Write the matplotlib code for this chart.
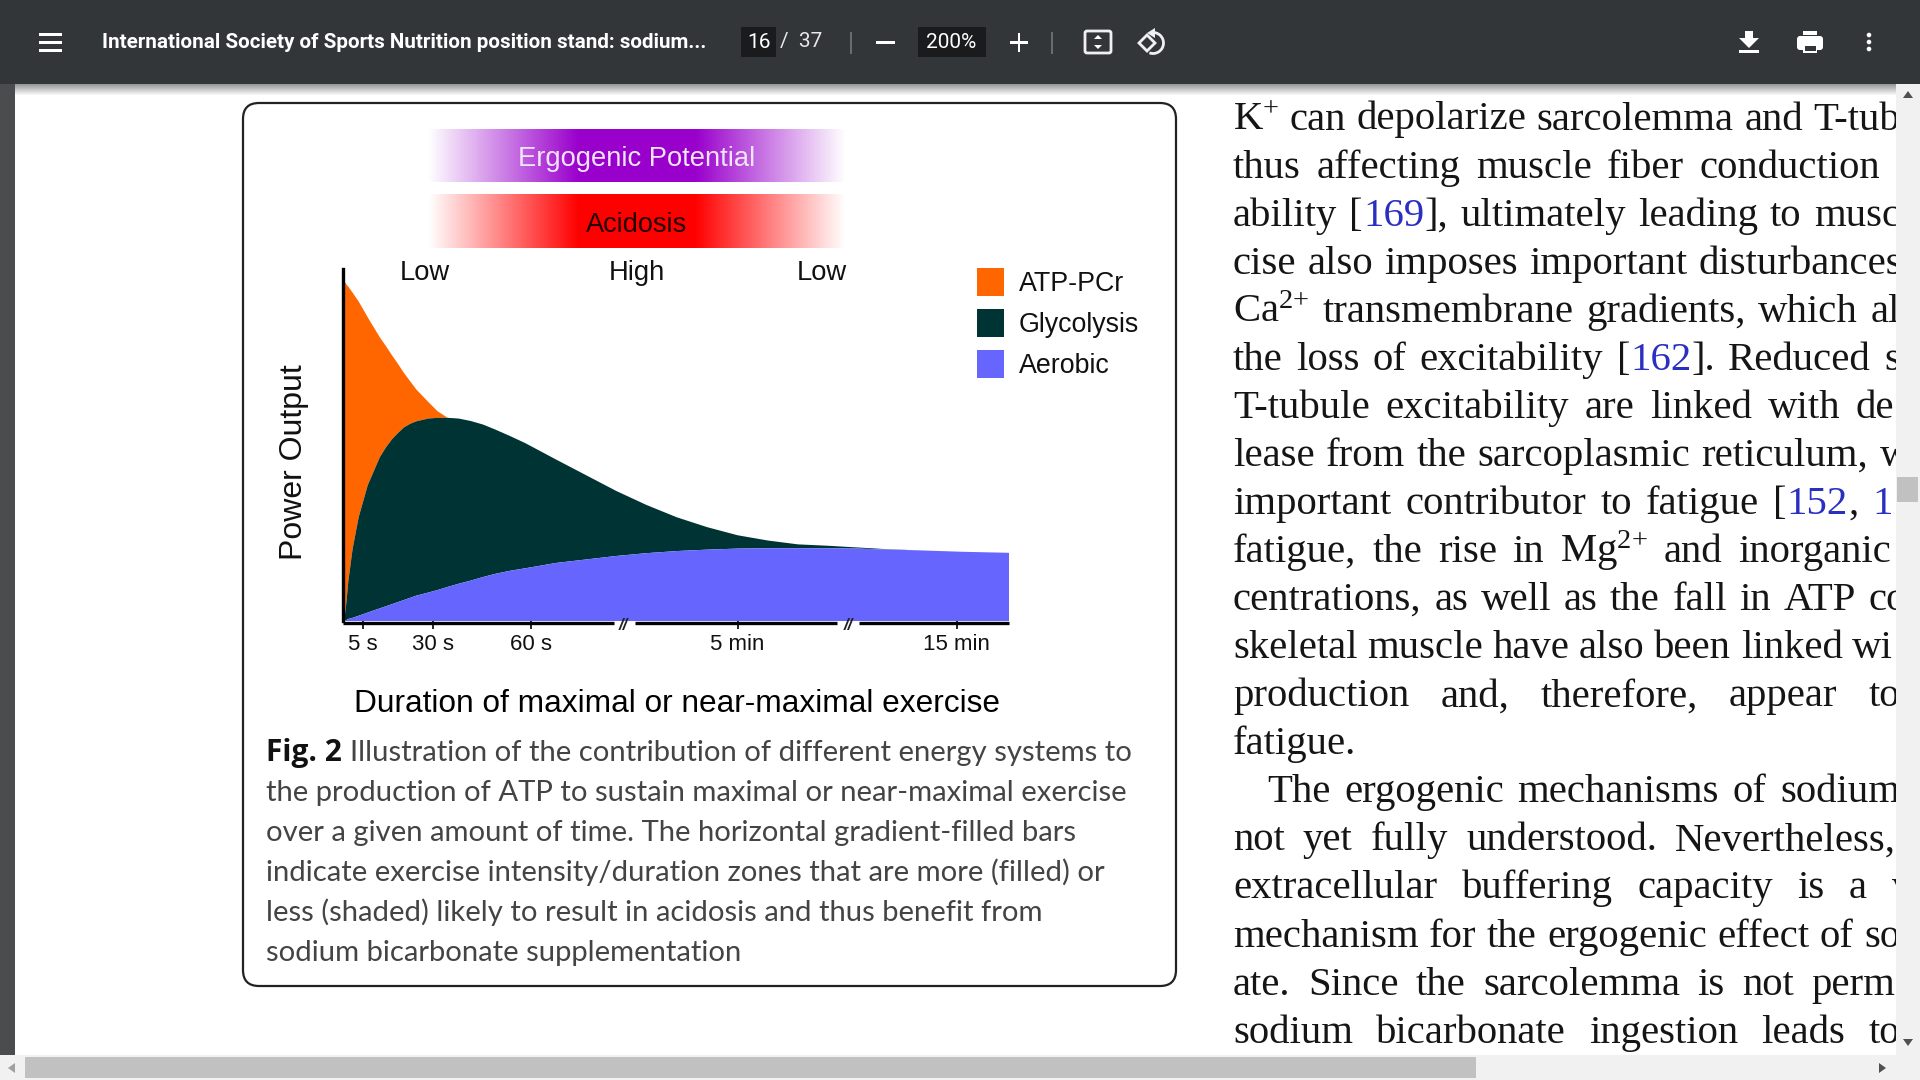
import re

import matplotlib
matplotlib.use("Agg")
import matplotlib.pyplot as plt
import numpy as np
from matplotlib.colors import LinearSegmentedColormap
from matplotlib.patches import Arc, FancyBboxPatch, Polygon, Rectangle

plt.rcParams["font.family"] = ["Liberation Sans", "DejaVu Sans"]
plt.rcParams["mathtext.fontset"] = "custom"
plt.rcParams["mathtext.rm"] = "Liberation Serif"
plt.rcParams["mathtext.default"] = "regular"

# chart values, x and y both in percent of the axis length
duration = [0.0, 0.18, 0.46, 0.73, 1.37, 2.28, 3.64, 5.46, 6.38, 7.29, 8.2, 9.11, 10.02, 10.93, 12.75, 14.12, 15.66,
            17.3, 19.13, 20.95, 22.77, 25.05, 27.32, 31.88, 36.43, 40.98, 45.54, 50.09, 54.64, 59.2, 63.75, 68.3,
            72.86, 77.41, 81.97, 86.52, 92.9, 100.0]
aerobic = [0.0, 0.1, 0.3, 0.6, 0.9, 1.5, 2.4, 3.6, 4.2, 4.8, 5.4, 6.0, 6.6, 7.2, 8.1, 8.8, 9.7,
           10.6, 11.5, 12.5, 13.4, 14.3, 15.0, 16.5, 17.5, 18.5, 19.3, 19.9, 20.3, 20.6, 20.7, 20.7,
           20.7, 20.6, 20.3, 20.1, 19.7, 19.4]
glycolysis = [0.0, 1.1, 5.7, 11.4, 20.5, 29.5, 38.6, 46.6, 49.4, 51.7, 53.5, 55.1, 56.1, 56.8, 57.6, 57.8, 57.8,
              57.6, 56.9, 55.9, 54.5, 52.6, 50.6, 46.0, 41.5, 37.0, 33.0, 29.5, 26.7, 24.4, 22.9, 21.8,
              21.4, 20.9, 20.4, 20.1, 19.7, 19.4]
atp_pcr = [0.0, 96.6, 95.7, 95.1, 93.4, 90.9, 86.4, 80.7, 78.2, 75.6, 73.1, 70.5, 68.2, 65.9, 62.3, 59.7, 57.8,
           57.6, 56.9, 55.9, 54.5, 52.6, 50.6, 46.0, 41.5, 37.0, 33.0, 29.5, 26.7, 24.4, 22.9, 21.8,
           21.4, 20.9, 20.4, 20.1, 19.7, 19.4]

tick_positions = [3.0, 13.5, 28.2, 59.3, 92.2]
tick_labels = ["5 s", "30 s", "60 s", "5 min", "15 min"]
axis_segments = [(0, 40.7), (43.9, 74.2), (77.6, 100)]
break_positions = [42.1, 75.9]

legend_labels = ["ATP-PCr", "Glycolysis", "Aerobic"]
legend_colors = ["#ff6600", "#003333", "#6666ff"]
zone_labels = ["Low", "High", "Low"]

caption_bold = "Fig. 2"
caption_lines = [
    "Illustration of the contribution of different energy systems to",
    "the production of ATP to sustain maximal or near-maximal exercise",
    "over a given amount of time. The horizontal gradient-filled bars",
    "indicate exercise intensity/duration zones that are more (filled) or",
    "less (shaded) likely to result in acidosis and thus benefit from",
    "sodium bicarbonate supplementation",
]

# page text: line, right edge of last word (None = not justified), blue parts in <>
body_lines = [
    ("K$^{+}$ can depolarize sarcolemma and T-tub", 1900),
    ("thus affecting muscle fiber conduction", 1880),
    ("ability [<169>], ultimately leading to musc", 1900),
    ("cise also imposes important disturbances", 1902),
    ("Ca$^{2{+}}$ transmembrane gradients, which al", 1900),
    ("the loss of excitability [<162>]. Reduced s", 1900),
    ("T-tubule excitability are linked with de", 1894),
    ("lease from the sarcoplasmic reticulum, w", 1909),
    ("important contributor to fatigue [<152>, <1>", 1893),
    ("fatigue, the rise in Mg$^{2{+}}$ and inorganic", 1891),
    ("centrations, as well as the fall in ATP co", 1907),
    ("skeletal muscle have also been linked wi", 1893),
    ("production and, therefore, appear to", 1900),
    ("fatigue.", None),
    ("The ergogenic mechanisms of sodium", 1900),
    ("not yet fully understood. Nevertheless,", 1896),
    ("extracellular buffering capacity is a v", 1912),
    ("mechanism for the ergogenic effect of so", 1900),
    ("ate. Since the sarcolemma is not perm", 1895),
    ("sodium bicarbonate ingestion leads to", 1900),
]

doc_title = "International Society of Sports Nutrition position stand: sodium..."

BAR = "#323639"
W, H = 1920, 1080

fig = plt.figure(figsize=(19.2, 10.8), dpi=100, facecolor="white")
bg = fig.add_axes([0, 0, 1, 1], zorder=0)
bg.set_xlim(0, W)
bg.set_ylim(H, 0)
bg.axis("off")
renderer = fig.canvas.get_renderer()


def box(x0, y0, x1, y1, color, z=1):
    bg.add_patch(Rectangle((x0, y0), x1 - x0, y1 - y0, fc=color, ec="none", zorder=z))


def text_width(x, y, s, **kw):
    t = bg.text(x, y, s, va="baseline", ha="left", **kw)
    return t.get_window_extent(renderer).width


def gradient(x0, y0, x1, y1, color):
    cmap = LinearSegmentedColormap.from_list(
        "bar", [(0, "white"), (0.36, color), (0.64, color), (1, "white")])
    strip = np.linspace(0, 1, 256).reshape(1, -1)
    bg.imshow(strip, extent=(x0, x1, y1, y0), aspect="auto", cmap=cmap, zorder=2)


# =====================================
# Page and viewer chrome
# =====================================

box(0, 0, 15, H, "#4a4c4e")
grad = np.linspace(0, 1, 12).reshape(-1, 1)
bg.imshow(grad, extent=(15, 1896, 96, 84), aspect="auto", cmap="gray", vmin=-1.5, vmax=1, origin="upper", zorder=1)
bg.set_xlim(0, W)
bg.set_ylim(H, 0)

box(0, 0, W, 84, BAR, 6)
for y in [33, 41, 49]:
    box(39, y, 62, y + 3, "white", 7)
bg.text(102, 43, doc_title, color="white", fontsize=14.9, family="Roboto", weight="bold", va="center", zorder=7)
box(741, 27, 776, 57, "#191b1c", 7)
bg.text(759, 43, "16", color="white", fontsize=15, family="Roboto", ha="center", va="center", zorder=8)
bg.text(801, 42, "/  37", color="#e8e8e8", fontsize=15, family="Roboto", ha="center", va="center", zorder=8)
box(850, 32, 851.5, 54, "#6a6d70", 7)
box(876, 41, 895, 43.5, "white", 7)
box(918, 27, 986, 57, "#191b1c", 7)
bg.text(951, 43, "200%", color="white", fontsize=15, family="Roboto", ha="center", va="center", zorder=8)
box(1010, 41, 1028, 43.5, "white", 7)
box(1017.8, 33, 1020.2, 52, "white", 7)
box(1051, 32, 1052.5, 54, "#6a6d70", 7)

# fit to page and rotate icons
bg.add_patch(FancyBboxPatch((1085, 31), 26, 22, boxstyle="round,pad=0,rounding_size=2", fc="none", ec="#f0f0f0", lw=2, zorder=7))
bg.add_patch(Polygon([(1094, 39), (1098, 35), (1102, 39)], fc="white", ec="none", zorder=7))
bg.add_patch(Polygon([(1094, 45), (1098, 49), (1102, 45)], fc="white", ec="none", zorder=7))
bg.add_patch(Arc((1153, 43), 21, 21, theta1=-100, theta2=110, ec="#f0f0f0", lw=2, zorder=7))
bg.add_patch(Polygon([(1147, 33), (1155, 28), (1155, 38)], fc="#f0f0f0", ec="none", zorder=8))
bg.add_patch(Polygon([(1139, 43), (1147, 35), (1155, 43), (1147, 51)], fc=BAR, ec="#f0f0f0", lw=2, zorder=8))

# download, print, menu icons
bg.add_patch(Polygon([(1745, 31), (1753, 31), (1753, 38), (1759, 38), (1749, 48), (1739, 38), (1745, 38)], fc="white", ec="none", zorder=7))
box(1739, 50, 1759, 52.5, "white", 7)
box(1803, 31, 1817, 35, "white", 7)
bg.add_patch(FancyBboxPatch((1797, 36), 26, 14, boxstyle="round,pad=0,rounding_size=3", fc="white", ec="none", zorder=7))
box(1803, 45, 1817, 53, "white", 7)
box(1804.5, 46, 1815.5, 51, BAR, 8)
for y in [35, 42, 49]:
    bg.add_patch(plt.Circle((1869, y), 2.3, fc="white", ec="none", zorder=7))

# scrollbars
box(1896, 84, W, H, "#f1f1f1", 5)
box(0, 1055, W, H, "#f1f1f1", 5)
box(25, 1057, 1476, 1078, "#c1c1c1", 6)
box(1897, 477, 1918, 502, "#c1c1c1", 6)
bg.add_patch(Polygon([(1908, 91), (1903, 98), (1913, 98)], fc="#505050", ec="none", zorder=6))
bg.add_patch(Polygon([(1908, 1046), (1903, 1039), (1913, 1039)], fc="#505050", ec="none", zorder=6))
bg.add_patch(Polygon([(8, 1068), (15, 1063), (15, 1073)], fc="#a0a0a0", ec="none", zorder=6))
bg.add_patch(Polygon([(1886, 1068), (1879, 1063), (1879, 1073)], fc="#505050", ec="none", zorder=6))

# =====================================
# Figure card
# =====================================

bg.add_patch(FancyBboxPatch((243, 103), 933, 883, boxstyle="round,pad=0,rounding_size=16", fc="white", ec="#222222", lw=1.6, zorder=2))

gradient(428, 129, 846, 182, "#9900cc")
gradient(428, 194, 846, 248, "#ff0000")
bg.text(637, 159, "Ergogenic Potential", color="#f0e4f8", fontsize=19.7, ha="center", va="center", zorder=3)
bg.text(637, 225, "Acidosis", color="#220000", fontsize=19.5, ha="center", va="center", zorder=3)

for x, label in zip([425, 637, 822], zone_labels):
    bg.text(x, 273, label, color="#111111", fontsize=19.7, ha="center", va="center", zorder=3)

for y, label, color in zip([282, 323, 364], legend_labels, legend_colors):
    box(977, y - 14, 1004, y + 14, color, 3)
    bg.text(1019, y + 2, label, color="#111111", fontsize=19.3, va="center", zorder=3)

bg.text(294, 462, "Power Output", color="#111111", fontsize=23, rotation=90, ha="center", va="center", zorder=3)
bg.text(677, 704, "Duration of maximal or near-maximal exercise", color="black", fontsize=22.8, ha="center", va="center", zorder=3)

ax = fig.add_axes([343 / W, 1 - 620.5 / H, (1008.5 - 343) / W, (620.5 - 269) / H], zorder=2)
ax.patch.set_alpha(0)
ax.set_xlim(0, 100)
ax.set_ylim(0, 100)
ax.fill_between(duration, glycolysis, atp_pcr, color=legend_colors[0], lw=0)
ax.fill_between(duration, aerobic, glycolysis, color=legend_colors[1], lw=0)
ax.fill_between(duration, 0, aerobic, color=legend_colors[2], lw=0)
for side in ["top", "right", "bottom"]:
    ax.spines[side].set_visible(False)
ax.spines["left"].set_linewidth(2.4)
ax.set_yticks([])
ax.set_xticks(tick_positions, tick_labels, fontsize=16, color="#111111")
ax.tick_params(axis="x", length=5.5, width=1.2, pad=4)
for x0, x1 in axis_segments:
    ax.plot([x0, x1], [-0.6, -0.6], color="black", lw=2.4, clip_on=False, solid_capstyle="butt")
for x in break_positions:
    ax.text(x, -1.5, "//", fontsize=12, fontweight="bold", style="italic", ha="center", va="center", color="#222222")

# =====================================
# Caption
# =====================================

cap_font = {"family": "Lato", "fontsize": 21.1, "color": "#444444", "zorder": 3}
for i, line in enumerate(caption_lines):
    y = 761 + 40 * i
    x = 266
    if i == 0:
        x += text_width(x, y, caption_bold, family="Open Sans", weight="bold", fontsize=21.5, color="#111111", zorder=3) + 8
    bg.text(x, y, line, va="baseline", **cap_font)

# =====================================
# Body text on the right
# =====================================

BODY_SIZE = 29.3
for i, (line, right) in enumerate(body_lines):
    y = 129.5 + 48.06 * i
    left = 1267 if line.startswith("The ergogenic") else 1233
    words = [[p for p in re.split(r"(<[^>]*>)", w) if p] for w in line.split(" ")]
    # measure first with invisible text
    widths = []
    for word in words:
        total = 0
        for piece in word:
            t = bg.text(0, 0, piece.strip("<>"), fontsize=BODY_SIZE, family="Liberation Serif")
            total += t.get_window_extent(renderer).width
            t.remove()
        widths.append(total)
    gap = 11 if right is None else (right - left - sum(widths)) / (len(words) - 1)
    x = left
    for word, width in zip(words, widths):
        for piece in word:
            color = "#2a2fc0" if piece.startswith("<") else "#151515"
            x += text_width(x, y, piece.strip("<>"), fontsize=BODY_SIZE, family="Liberation Serif", color=color, zorder=3)
        x += gap

fig.savefig("out.png", dpi=100)
